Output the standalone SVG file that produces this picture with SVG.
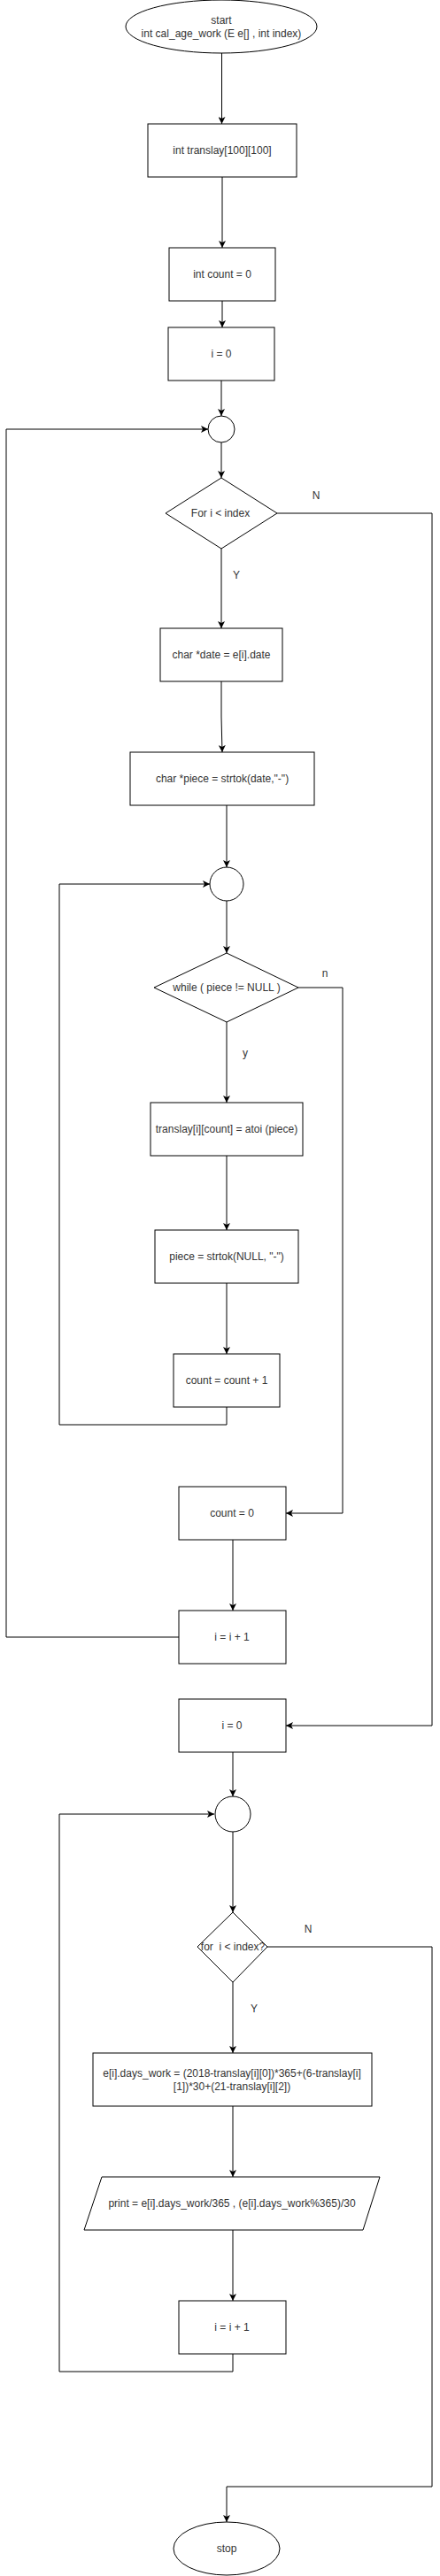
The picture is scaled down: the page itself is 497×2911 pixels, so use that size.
<svg xmlns="http://www.w3.org/2000/svg" width="497" height="2911" viewBox="0 0 497 2911">
<style>
.s{fill:#fff;stroke:#000;stroke-width:1}
.t{font-family:"Liberation Sans",Arial,sans-serif;font-size:12px;fill:#333;text-anchor:middle;white-space:pre}
.c{fill:none;stroke:#000;stroke-width:1}
</style>
<defs>
<marker id="a" viewBox="0 0 8 8" markerWidth="8" markerHeight="8" refX="8" refY="4" orient="auto" markerUnits="userSpaceOnUse">
<path d="M0,0 L8,4 L0,8 L2,4 Z" fill="#000"/>
</marker>
</defs>
<rect width="497" height="2911" fill="#fff"/>
<g id="connectors">
<path class="c" d="M250.5,60 L250.5,140" marker-end="url(#a)"/>
<path class="c" d="M251,200 L251,280" marker-end="url(#a)"/>
<path class="c" d="M251,340 L251,370" marker-end="url(#a)"/>
<path class="c" d="M250,430 L250,470" marker-end="url(#a)"/>
<path class="c" d="M250,500 L250,540" marker-end="url(#a)"/>
<path class="c" d="M250,620 L250,710" marker-end="url(#a)"/>
<path class="c" d="M250,770 L250,810 L251,850" marker-end="url(#a)"/>
<path class="c" d="M256,910 L256,980" marker-end="url(#a)"/>
<path class="c" d="M256,1018 L256,1077" marker-end="url(#a)"/>
<path class="c" d="M256,1155 L256,1246" marker-end="url(#a)"/>
<path class="c" d="M256,1306 L256,1390" marker-end="url(#a)"/>
<path class="c" d="M256,1450 L256,1530" marker-end="url(#a)"/>
<path class="c" d="M256,1590 L256,1610 L67,1610 L67,999 L237,999" marker-end="url(#a)"/>
<path class="c" d="M337,1116 L387,1116 L387,1710 L323,1710" marker-end="url(#a)"/>
<path class="c" d="M263,1740 L263,1820" marker-end="url(#a)"/>
<path class="c" d="M202,1850 L7,1850 L7,485 L235,485" marker-end="url(#a)"/>
<path class="c" d="M313,580 L488,580 L488,1950 L323,1950" marker-end="url(#a)"/>
<path class="c" d="M263,1980 L263,2030" marker-end="url(#a)"/>
<path class="c" d="M263,2070 L263,2161" marker-end="url(#a)"/>
<path class="c" d="M263,2240 L263,2320" marker-end="url(#a)"/>
<path class="c" d="M263,2380 L263,2460" marker-end="url(#a)"/>
<path class="c" d="M263,2520 L263,2600" marker-end="url(#a)"/>
<path class="c" d="M263,2660 L263,2680 L67,2680 L67,2050 L242,2050" marker-end="url(#a)"/>
<path class="c" d="M302,2200 L488,2200 L488,2810 L256,2810 L256,2850" marker-end="url(#a)"/>
<text class="t" x="357" y="564">N</text>
<text class="t" x="267" y="654">Y</text>
<text class="t" x="367" y="1104">n</text>
<text class="t" x="277" y="1194">y</text>
<text class="t" x="348" y="2184">N</text>
<text class="t" x="287" y="2274">Y</text>
</g>
<g id="start">
<ellipse class="s" cx="250" cy="30" rx="108" ry="30"/>
<text class="t" x="250" y="27">start</text>
<text class="t" x="250" y="42">int cal_age_work (E e[] , int index)</text>
</g>
<g id="translay">
<rect class="s" x="167" y="140" width="168" height="60"/>
<text class="t" x="251" y="174">int translay[100][100]</text>
</g>
<g id="count0">
<rect class="s" x="191" y="280" width="120" height="60"/>
<text class="t" x="251" y="314">int count = 0</text>
</g>
<g id="i0">
<rect class="s" x="190" y="370" width="120" height="60"/>
<text class="t" x="250" y="404">i = 0</text>
</g>
<g id="junction1">
<circle class="s" cx="250" cy="485" r="15"/>
</g>
<g id="for1">
<polygon class="s" points="250,540 313,580 250,620 187,580"/>
<text class="t" x="249" y="584">For i &lt; index</text>
</g>
<g id="date">
<rect class="s" x="181" y="710" width="138" height="60"/>
<text class="t" x="250" y="744">char *date = e[i].date</text>
</g>
<g id="piece">
<rect class="s" x="147" y="850" width="208" height="60"/>
<text class="t" x="251" y="884">char *piece = strtok(date,"-")</text>
</g>
<g id="junction2">
<circle class="s" cx="256" cy="999" r="19"/>
</g>
<g id="while">
<polygon class="s" points="256,1077 337,1116 256,1155 174,1116"/>
<text class="t" x="256" y="1120">while ( piece != NULL )</text>
</g>
<g id="atoi">
<rect class="s" x="170" y="1246" width="172" height="60"/>
<text class="t" x="256" y="1280">translay[i][count] = atoi (piece)</text>
</g>
<g id="strtok">
<rect class="s" x="175" y="1390" width="162" height="60"/>
<text class="t" x="256" y="1424">piece = strtok(NULL, "-")</text>
</g>
<g id="countinc">
<rect class="s" x="196" y="1530" width="120" height="60"/>
<text class="t" x="256" y="1564">count = count + 1</text>
</g>
<g id="countreset">
<rect class="s" x="202" y="1680" width="121" height="60"/>
<text class="t" x="262" y="1714">count = 0</text>
</g>
<g id="iinc1">
<rect class="s" x="202" y="1820" width="121" height="60"/>
<text class="t" x="262" y="1854">i = i + 1</text>
</g>
<g id="i0b">
<rect class="s" x="202" y="1920" width="121" height="60"/>
<text class="t" x="262" y="1954">i = 0</text>
</g>
<g id="junction3">
<circle class="s" cx="263" cy="2050" r="20"/>
</g>
<g id="for2">
<polygon class="s" points="263,2161 302,2200 263,2240 223,2200"/>
<text class="t" x="263" y="2204">for  i &lt; index?</text>
</g>
<g id="dayswork">
<rect class="s" x="105" y="2320" width="315" height="60"/>
<text class="t" x="262" y="2347">e[i].days_work = (2018-translay[i][0])*365+(6-translay[i]</text>
<text class="t" x="262" y="2362">[1])*30+(21-translay[i][2])</text>
</g>
<g id="print">
<polygon class="s" points="115,2460 429,2460 410,2520 95,2520"/>
<text class="t" x="262" y="2494">print = e[i].days_work/365 , (e[i].days_work%365)/30</text>
</g>
<g id="iinc2">
<rect class="s" x="202" y="2600" width="121" height="60"/>
<text class="t" x="262" y="2634">i = i + 1</text>
</g>
<g id="stop">
<ellipse class="s" cx="256" cy="2880" rx="60" ry="30"/>
<text class="t" x="256" y="2884">stop</text>
</g>
</svg>
